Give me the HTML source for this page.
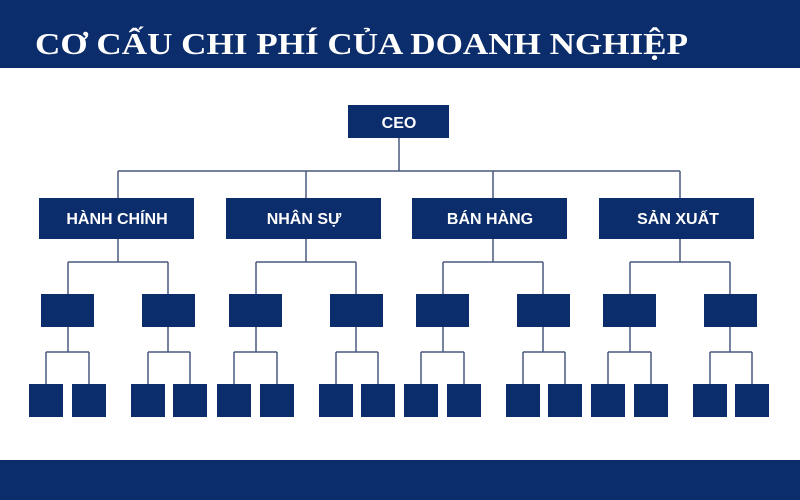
<!DOCTYPE html>
<html><head><meta charset="utf-8"><style>
html,body{margin:0;padding:0;background:#fff;width:800px;height:500px;overflow:hidden}
</style></head><body>
<svg width="800" height="500" xmlns="http://www.w3.org/2000/svg">
<rect x="0" y="0" width="800" height="68" fill="#0c2d6b"/>
<rect x="0" y="460" width="800" height="40" fill="#0c2d6b"/>
<text x="35" y="54" fill="#fff" font-family="Liberation Serif, serif" font-weight="bold" font-size="31" textLength="653" lengthAdjust="spacingAndGlyphs">CƠ CẤU CHI PHÍ CỦA DOANH NGHIỆP</text>
<g stroke="#4a5a7e" stroke-width="1.5" fill="none">
<path d="M399 138V171M118 171H680M118 171V198M306 171V198M493 171V198M680 171V198"/>
<path d="M118 239V262M68 262H168M68 262V294M168 262V294M68 327V352M168 327V352M46 352H89M148 352H190M46 352V384M89 352V384M148 352V384M190 352V384"/>
<path d="M306 239V262M256 262H356M256 262V294M356 262V294M256 327V352M356 327V352M234 352H277M336 352H378M234 352V384M277 352V384M336 352V384M378 352V384"/>
<path d="M493 239V262M443 262H543M443 262V294M543 262V294M443 327V352M543 327V352M421 352H464M523 352H565M421 352V384M464 352V384M523 352V384M565 352V384"/>
<path d="M680 239V262M630 262H730M630 262V294M730 262V294M630 327V352M730 327V352M608 352H651M710 352H752M608 352V384M651 352V384M710 352V384M752 352V384"/>
</g>
<g fill="#0c2d6b">
<rect x="348" y="105" width="101" height="33"/>
<rect x="39" y="198" width="155" height="41"/>
<rect x="226" y="198" width="155" height="41"/>
<rect x="412" y="198" width="155" height="41"/>
<rect x="599" y="198" width="155" height="41"/>
<rect x="41" y="294" width="53" height="33"/><rect x="142" y="294" width="53" height="33"/>
<rect x="229" y="294" width="53" height="33"/><rect x="330" y="294" width="53" height="33"/>
<rect x="416" y="294" width="53" height="33"/><rect x="517" y="294" width="53" height="33"/>
<rect x="603" y="294" width="53" height="33"/><rect x="704" y="294" width="53" height="33"/>
<rect x="29" y="384" width="34" height="33"/><rect x="72" y="384" width="34" height="33"/><rect x="131" y="384" width="34" height="33"/><rect x="173" y="384" width="34" height="33"/>
<rect x="217" y="384" width="34" height="33"/><rect x="260" y="384" width="34" height="33"/><rect x="319" y="384" width="34" height="33"/><rect x="361" y="384" width="34" height="33"/>
<rect x="404" y="384" width="34" height="33"/><rect x="447" y="384" width="34" height="33"/><rect x="506" y="384" width="34" height="33"/><rect x="548" y="384" width="34" height="33"/>
<rect x="591" y="384" width="34" height="33"/><rect x="634" y="384" width="34" height="33"/><rect x="693" y="384" width="34" height="33"/><rect x="735" y="384" width="34" height="33"/>
</g>
<g fill="#fff" font-family="Liberation Sans, sans-serif" font-weight="bold" font-size="16" text-anchor="middle">
<text x="399" y="128">CEO</text>
<text x="117" y="224">HÀNH CHÍNH</text>
<text x="304" y="224">NHÂN SỰ</text>
<text x="490" y="224">BÁN HÀNG</text>
<text x="678" y="224">SẢN XUẤT</text>
</g>
</svg>
</body></html>
